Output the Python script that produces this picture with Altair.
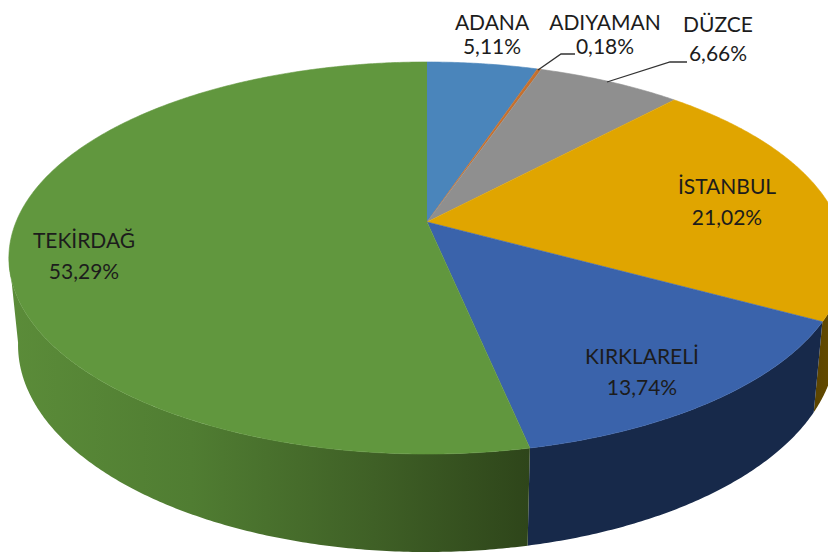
import math
import altair as alt
import pandas as pd

# Values
categories = ["ADANA", "ADIYAMAN", "DÜZCE", "İSTANBUL", "KIRKLARELİ", "TEKİRDAĞ"]
shares = [5.11, 0.18, 6.66, 21.02, 13.74, 53.29]
share_labels = ["5,11%", "0,18%", "6,66%", "21,02%", "13,74%", "53,29%"]
top_colors = ["#4a85bb", "#c5702e", "#8f8f8f", "#e0a500", "#3a63ab", "#61973e"]
label_x = [492, 605, 718, 727, 642, 84]
label_y1 = [24, 24, 26, 188, 358, 242]
label_y2 = [48, 48, 55, 219, 389, 273]

# Perspective view of the disc
CX, CY, RX, RY, K = 427, 222, 411, 189.4, 0.1837
BOT_CY, BOT_RX, BOT_RY = 307, 402, 200
SIDE_FROM, SIDE_TO = 100, 260  # visible rim, degrees clockwise from top


def project(theta, cy, rx, ry):
    t = math.radians(theta)
    X, Y = math.sin(t), -math.cos(t)
    w = 1 - K * Y
    return CX + rx * X / w, cy + ry * Y / w


def arc(a, b, cy, rx, ry):
    n = max(2, int(abs(b - a) / 0.5) + 1)
    return [project(a + (b - a) * i / (n - 1), cy, rx, ry) for i in range(n)]


edges = [0]
for s in shares:
    edges.append(edges[-1] + s * 360 / 100)

X_SCALE = alt.Scale(domain=[8, 828], range=[0, 820], nice=False, zero=False)
Y_SCALE = alt.Scale(domain=[8, 555], range=[0, 547], nice=False, zero=False)
enc = dict(
    x=alt.X("x:Q", scale=X_SCALE, axis=None),
    y=alt.Y("y:Q", scale=Y_SCALE, axis=None),
    order="i:Q",
)


def poly(points, fill, stroke=None):
    df = pd.DataFrame([{"x": x, "y": y, "i": i} for i, (x, y) in enumerate(points)])
    kw = dict(stroke=stroke, strokeWidth=0.6) if stroke else dict(strokeWidth=0)
    return alt.Chart(df).mark_line(filled=True, fill=fill, clip=True, interpolate="linear", **kw).encode(**enc)


def grad(stops):
    return alt.LinearGradient(
        gradient="linear", x1=0, x2=1, y1=0, y2=0,
        stops=[alt.GradientStop(color=c, offset=o) for o, c in stops],
    )


def side(a, b):
    return arc(a, b, CY, RX, RY) + arc(b, a, BOT_CY, BOT_RX, BOT_RY)


layers = [
    poly(side(SIDE_FROM, edges[4]), grad([(0, "#5a4300"), (1, "#6a5000")])),
    poly(side(edges[4], edges[5]), "#17294a"),
    poly(side(edges[5], SIDE_TO), grad([(0, "#5b8c39"), (0.35, "#507d32"), (0.7, "#3f6026"), (1, "#2e451a")])),
]
for i, c in enumerate(top_colors):
    pts = [(CX, CY)] + arc(edges[i], edges[i + 1], CY, RX, RY)
    layers.append(poly(pts, c, stroke=c))

# Leader lines
leader_adiyaman = pd.DataFrame({"x": [538, 561, 575], "y": [70, 54, 54], "i": [0, 1, 2]})
leader_duzce = pd.DataFrame({"x": [607, 670, 687], "y": [82, 62, 62], "i": [0, 1, 2]})
for d in (leader_adiyaman, leader_duzce):
    layers.append(alt.Chart(d).mark_line(color="#333333", strokeWidth=1.3).encode(**enc))

labels = pd.DataFrame({"x": label_x, "y1": label_y1, "y2": label_y2, "a": categories, "b": share_labels})
text = dict(font="Lato", fontSize=21, color="#1c1c1c", baseline="middle", align="center")
pos = dict(x=alt.X("x:Q", scale=X_SCALE, axis=None))
layers.append(alt.Chart(labels).mark_text(**text).encode(y=alt.Y("y1:Q", scale=Y_SCALE, axis=None), text="a:N", **pos))
layers.append(alt.Chart(labels).mark_text(**text).encode(y=alt.Y("y2:Q", scale=Y_SCALE, axis=None), text="b:N", **pos))

chart = (
    alt.layer(*layers)
    .properties(width=820, height=547, padding=0, background="white",
                autosize=alt.AutoSizeParams(type="none"))
    .configure_view(stroke=None)
)
chart.save("out.html", embed_options={"renderer": "svg", "actions": False})
